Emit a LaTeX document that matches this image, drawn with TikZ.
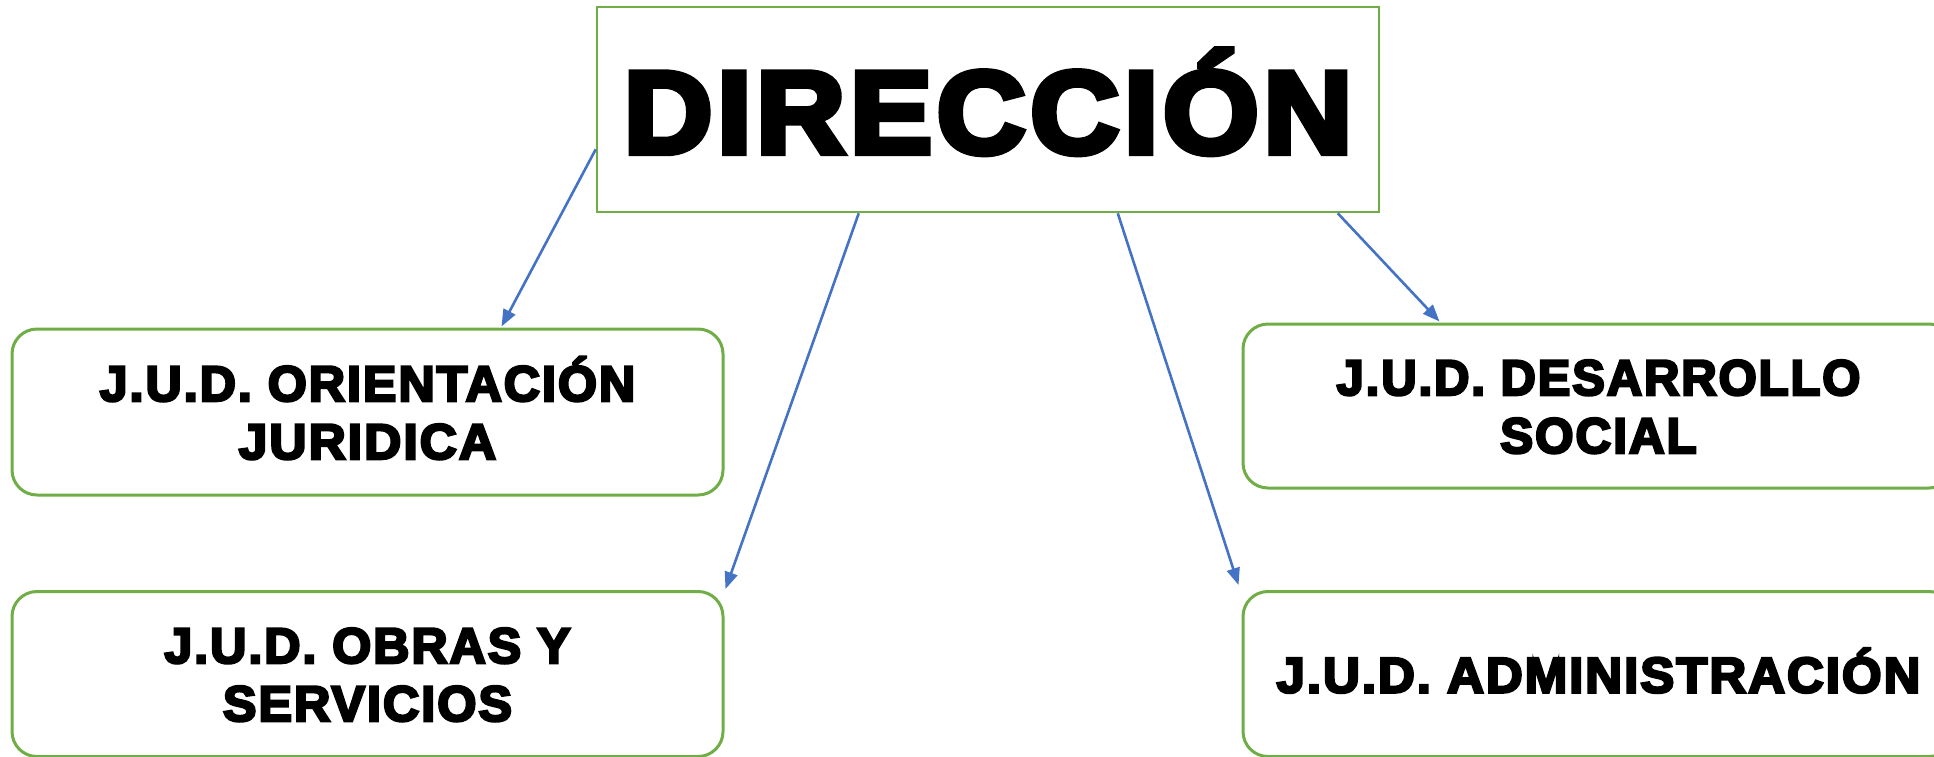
\documentclass[tikz,border=0pt]{standalone}
\usepackage{fontspec}
\setmainfont{Liberation Sans}
\newfontfamily\hv{Liberation Sans Bold}[FakeBold=5,LetterSpace=4]
\newfontfamily\hvhead{Liberation Sans Bold}[FakeBold=5.5,LetterSpace=4]
\usetikzlibrary{arrows.meta,calc}
\definecolor{boxgreen}{HTML}{70AD47}
\definecolor{arrowblue}{HTML}{4472C4}
% one line of text, baseline shifted by #1, horizontally scaled by #2
\newcommand\onel[3]{\raisebox{#1}[0pt][0pt]{\makebox[0pt]{\scalebox{#2}[1]{#3}}}}
\newcommand\twol[4]{\onel{11pt}{#2}{#1}\onel{-47pt}{#4}{#3}}
\tikzset{
  unitbox/.style={draw=boxgreen, line width=3pt, rounded corners=25pt,
    minimum width=711pt, inner sep=0pt,
    font=\hv\fontsize{50}{58}\selectfont},
  headbox/.style={draw=boxgreen, line width=2.5pt, minimum width=782pt,
    minimum height=205pt, inner sep=0pt, font=\hvhead\fontsize{117}{130}\selectfont},
  link/.style={draw=arrowblue, line width=2.6pt,
    -{Triangle[length=17pt,width=13pt]}}
}
\begin{document}
\begin{tikzpicture}[x=1pt,y=-1pt]
\useasboundingbox (0,0) rectangle (1934,756);
\node[headbox] (dir) at (988,109.5) {\onel{-43.5pt}{1.05}{DIRECCIÓN}};
\node[unitbox, minimum height=166pt] (b1) at (367.5,412)
  {\twol{J.U.D. ORIENTACIÓN}{1.003}{JURIDICA}{1.029}};
\node[unitbox, minimum height=165pt] (b2) at (367.5,674)
  {\twol{J.U.D. OBRAS Y}{1.002}{SERVICIOS}{1.006}};
\node[unitbox, minimum height=164pt] (b3) at (1598.5,406)
  {\twol{J.U.D. DESARROLLO}{0.978}{SOCIAL}{0.988}};
\node[unitbox, minimum height=165pt] (b4) at (1598.5,674)
  {\onel{-18.5pt}{1.018}{J.U.D. ADMINISTRACIÓN}};
\draw[link] ($(dir.south west)+(0,-64)$) -- ($(b1.north)+(134,-1)$);
\draw[link] ($(dir.south west)+(263,0)$) -- ($(b2.north east)+(1,-1)$);
\draw[link] ($(dir.south west)+(522,0)$) -- ($(b4.north west)+(-3,-5)$);
\draw[link] ($(dir.south west)+(742,0)$) -- ($(b3.north)+(-159,-1)$);
\end{tikzpicture}
\end{document}
